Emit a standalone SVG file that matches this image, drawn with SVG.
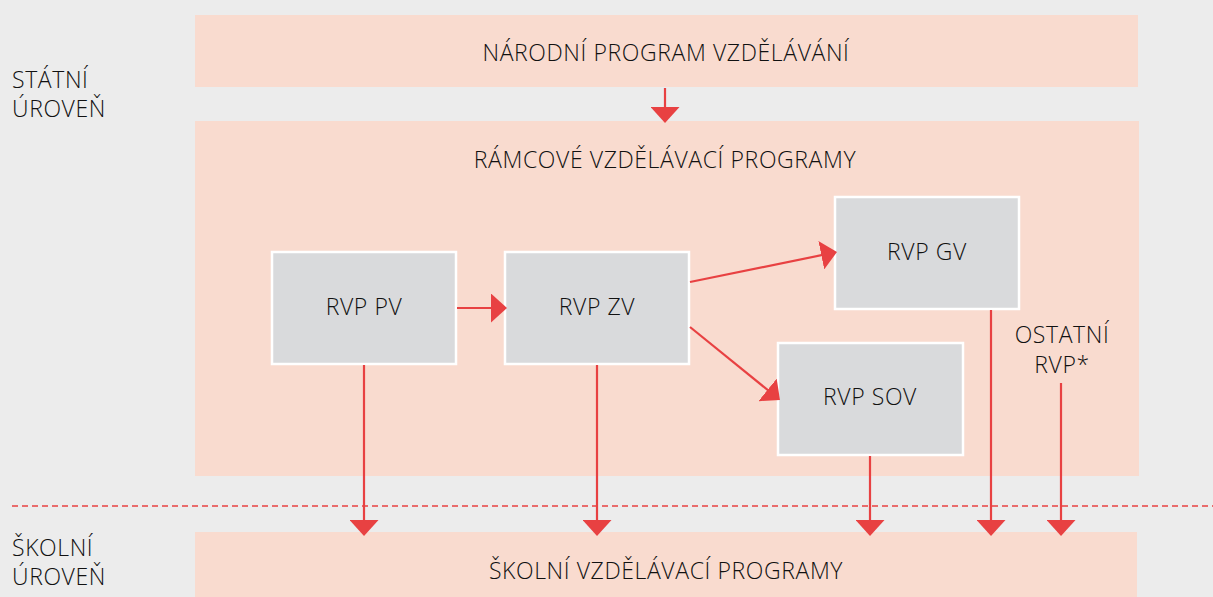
<svg xmlns="http://www.w3.org/2000/svg" width="1213" height="597" viewBox="0 0 1213 597">
<style>
text{font-family:"Open Sans","Liberation Sans",sans-serif;font-size:23px;font-weight:300;letter-spacing:0.6px;fill:#111111}
.c{text-anchor:middle}
.band{fill:#f9dbcf}
.box{fill:#d9dadc;stroke:#ffffff;stroke-width:2.5}
.ln{stroke:#e84142;stroke-width:2.2;fill:none}
</style>
<defs>
<marker id="ah" viewBox="0 0 16 29" refX="10" refY="14.5" markerWidth="16" markerHeight="29" markerUnits="userSpaceOnUse" orient="auto">
<path d="M0,0 L16,14.5 L0,29 Z" fill="#e84142"/>
</marker>
</defs>
<rect width="1213" height="597" fill="#ececec"/>
<g id="stat-label">
<text x="12" y="88">STÁTNÍ</text>
<text x="12" y="117">ÚROVEŇ</text>
</g>
<g id="skol-label">
<text x="12" y="556">ŠKOLNÍ</text>
<text x="12" y="585">ÚROVEŇ</text>
</g>
<g id="npv">
<rect class="band" x="195" y="15" width="943" height="72"/>
<text class="c" x="666" y="61">NÁRODNÍ PROGRAM VZDĚLÁVÁNÍ</text>
</g>
<g id="rvp">
<rect class="band" x="195" y="121" width="944" height="355"/>
<text class="c" x="665" y="168">RÁMCOVÉ VZDĚLÁVACÍ PROGRAMY</text>
</g>
<g id="svp">
<rect class="band" x="195" y="532" width="942" height="65"/>
<text class="c" x="666" y="579">ŠKOLNÍ VZDĚLÁVACÍ PROGRAMY</text>
</g>
<line x1="12" y1="506" x2="1213" y2="506" stroke="#e84142" stroke-width="1.4" stroke-dasharray="6 4"/>
<g id="rvp-pv">
<rect class="box" x="272" y="252" width="184" height="112"/>
<text class="c" x="364" y="315">RVP PV</text>
</g>
<g id="rvp-zv">
<rect class="box" x="505" y="252" width="184" height="112"/>
<text class="c" x="597" y="315">RVP ZV</text>
</g>
<g id="rvp-gv">
<rect class="box" x="835" y="197" width="184" height="112"/>
<text class="c" x="927" y="260">RVP GV</text>
</g>
<g id="rvp-sov">
<rect class="box" x="778" y="343" width="185" height="112"/>
<text class="c" x="870" y="405">RVP SOV</text>
</g>
<g id="ostatni">
<text class="c" x="1062" y="343">OSTATNÍ</text>
<text class="c" x="1062" y="373">RVP*</text>
</g>
<g id="connectors">
<line class="ln" x1="665" y1="88" x2="665" y2="117" marker-end="url(#ah)"/>
<line class="ln" x1="457" y1="308" x2="501" y2="308" marker-end="url(#ah)"/>
<line class="ln" x1="690" y1="282" x2="831.1" y2="253.2" marker-end="url(#ah)"/>
<line class="ln" x1="690" y1="327" x2="775.3" y2="396.2" marker-end="url(#ah)"/>
<line class="ln" x1="364" y1="365" x2="364" y2="530" marker-end="url(#ah)"/>
<line class="ln" x1="597" y1="365" x2="597" y2="530" marker-end="url(#ah)"/>
<line class="ln" x1="870" y1="456" x2="870" y2="530" marker-end="url(#ah)"/>
<line class="ln" x1="991" y1="310" x2="991" y2="530" marker-end="url(#ah)"/>
<line class="ln" x1="1061" y1="383" x2="1061" y2="530" marker-end="url(#ah)"/>
</g>
</svg>
